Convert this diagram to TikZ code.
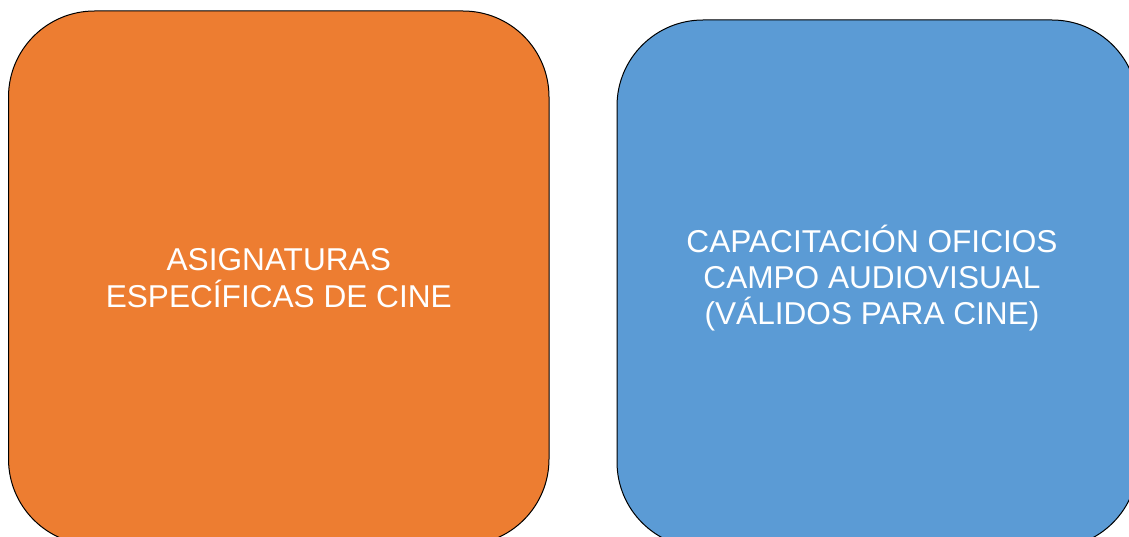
\documentclass[tikz,border=0pt]{standalone}
\usepackage{fontspec}
\setmainfont{Liberation Sans}
\definecolor{boxorange}{HTML}{ED7D31}
\definecolor{boxblue}{HTML}{5B9BD5}
\begin{document}
\begin{tikzpicture}[x=1pt,y=1pt,
  panel/.style={draw=black, line width=1pt, rounded corners=86pt, align=center,
    text=white, font=\fontsize{31.6}{37}\selectfont, inner sep=0pt}]
\useasboundingbox (0,0) rectangle (1129,-537);
\clip (0,0) rectangle (1129,-537);
\node[panel, fill=boxorange, minimum width=540.5pt, minimum height=534pt] (asig) at (278.75,-278) {ASIGNATURAS\\ESPECÍFICAS DE CINE};
\node[panel, fill=boxblue, minimum width=521pt, minimum height=528pt] (capa) at (877.5,-284) {};
\node[align=center, text=white, font=\fontsize{31.6}{36}\selectfont, inner sep=0pt] (capatext) at (872,-278.5) {CAPACITACIÓN OFICIOS\\CAMPO AUDIOVISUAL\\(VÁLIDOS PARA CINE)};
\end{tikzpicture}
\end{document}
